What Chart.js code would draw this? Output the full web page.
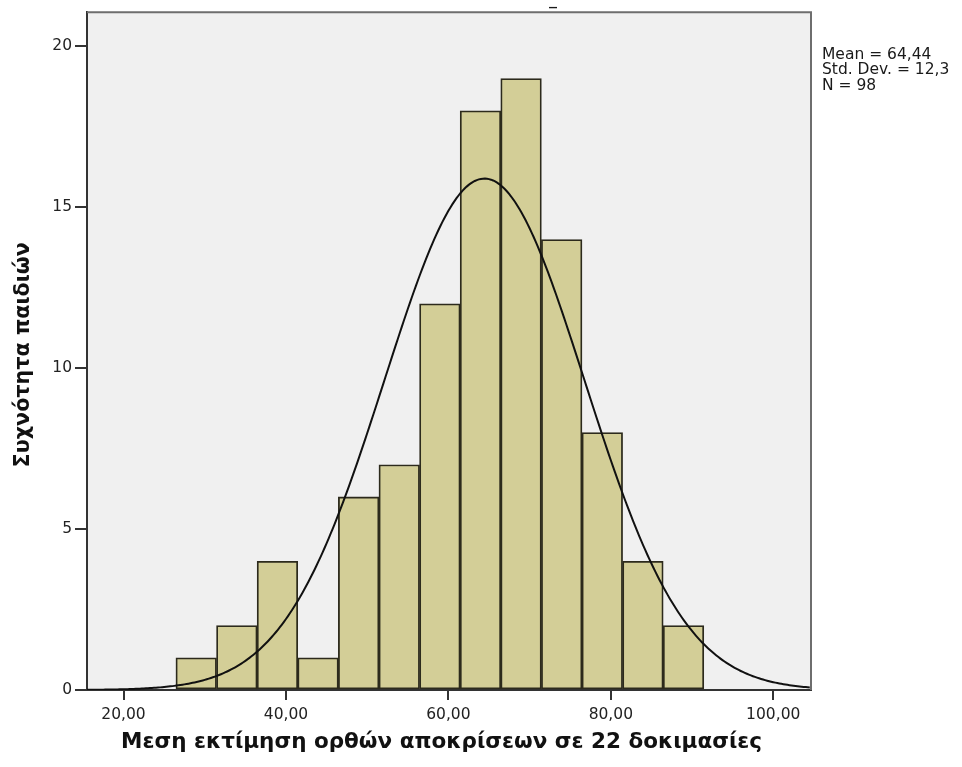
<!DOCTYPE html>
<html>
<head>
<meta charset="utf-8">
<script src="https://cdn.jsdelivr.net/npm/chart.js@4.4.1/dist/chart.umd.min.js"></script>
<style>
  html, body { margin: 0; padding: 0; background: #ffffff; }
  #wrap { width: 962px; height: 767px; position: relative; }
</style>
</head>
<body>
<div id="wrap"><canvas id="hist" width="962" height="767"></canvas></div>
<script>
// Histogram of mean correct-response scores over 22 tasks
const binLower = [26.45, 31.45, 36.45, 41.45, 46.45, 51.45, 56.45, 61.45, 66.45, 71.45, 76.45, 81.45, 86.45];
const binWidth = 5;
const counts = [1, 2, 4, 1, 6, 7, 12, 18, 19, 14, 8, 4, 2];

// Summary statistics shown beside the plot
const meanValue = 64.44;
const sdValue = 12.3;
const nValue = 98;
const statLines = ['Mean = 64,44', 'Std. Dev. = 12,3', 'N = 98'];

// Axis ticks and titles
const xTicks = [20, 40, 60, 80, 100];
const yTicks = [0, 5, 10, 15, 20];
const xMin = 15.5, xMax = 104.65;
const yMin = 0, yMax = 21.06;
const xTitle = 'Μεση εκτίμηση ορθών αποκρίσεων σε 22 δοκιμασίες';
const yTitle = 'Συχνότητα παιδιών';

const FONT = '"DejaVu Sans", Verdana, sans-serif';

// Bars placed at bin centres on a linear axis
const barPoints = binLower.map((lo, i) => ({ x: lo + binWidth / 2, y: counts[i] }));

// Fitted normal curve, scaled to counts per bin
const curveX = [];
for (let x = xMin; x <= xMax + 1e-9; x += 0.25) curveX.push(x);
const curvePoints = curveX.map(x => ({
  x: x,
  y: nValue * binWidth / (sdValue * Math.sqrt(2 * Math.PI)) *
     Math.exp(-0.5 * Math.pow((x - meanValue) / sdValue, 2))
}));

const fmtComma = v => v.toFixed(2).replace('.', ',');

const plotFrame = {
  id: 'plotFrame',
  beforeDraw(chart) {
    const { ctx, chartArea: a } = chart;
    ctx.save();
    ctx.fillStyle = '#f0f0f0';
    ctx.fillRect(a.left, a.top, a.right - a.left, a.bottom - a.top);
    ctx.restore();
  },
  afterDraw(chart) {
    const { ctx, chartArea: a } = chart;
    ctx.save();
    ctx.strokeStyle = '#6e6e6e';
    ctx.lineWidth = 2;
    ctx.beginPath();
    ctx.moveTo(a.left, a.top);
    ctx.lineTo(a.right, a.top);
    ctx.lineTo(a.right, a.bottom);
    ctx.stroke();
    // statistics block
    ctx.fillStyle = '#1a1a1a';
    ctx.font = '15.5px ' + FONT;
    ctx.textBaseline = 'middle';
    ctx.textAlign = 'left';
    statLines.forEach((t, i) => ctx.fillText(t, a.right + 11, 55 + i * 15.3));
    // clipped heading mark above the plot
    ctx.font = '20px ' + FONT;
    ctx.textAlign = 'center';
    ctx.textBaseline = 'alphabetic';
    ctx.fillText('–', 553, 13);
    ctx.restore();
  }
};

new Chart(document.getElementById('hist'), {
  data: {
    datasets: [
      {
        type: 'line',
        data: curvePoints,
        borderColor: '#111111',
        borderWidth: 2,
        pointRadius: 0,
        tension: 0,
        fill: false,
        order: 0
      },
      {
        type: 'bar',
        data: barPoints,
        backgroundColor: '#d3ce97',
        borderColor: '#2c2a1c',
        borderWidth: 1.8,
        barPercentage: 1,
        categoryPercentage: 1,
        borderSkipped: false,
        order: 1
      }
    ]
  },
  options: {
    responsive: false,
    animation: false,
    devicePixelRatio: 1,
    layout: { padding: { top: 12, right: 151, bottom: 0, left: 0 } },
    plugins: { legend: { display: false }, tooltip: { enabled: false } },
    scales: {
      x: {
        type: 'linear',
        offset: false,
        min: xMin,
        max: xMax,
        afterBuildTicks: s => { s.ticks = xTicks.map(v => ({ value: v })); },
        afterFit: s => { s.height = 77; },
        ticks: {
          callback: v => fmtComma(v),
          color: '#222222',
          font: { family: FONT, size: 15.5 },
          padding: 6,
          maxRotation: 0
        },
        grid: { display: true, offset: false, drawOnChartArea: false, drawTicks: true, tickLength: 10, color: '#333333', lineWidth: 2 },
        border: { display: true, color: '#333333', width: 2 },
        title: {
          display: true,
          text: xTitle + '  ',
          color: '#111111',
          font: { family: FONT, size: 21.5, weight: 'bold' },
          padding: { top: 0, bottom: 12 }
        }
      },
      y: {
        type: 'linear',
        min: yMin,
        max: yMax,
        afterBuildTicks: s => { s.ticks = yTicks.map(v => ({ value: v })); },
        afterFit: s => { s.width = 87; },
        ticks: {
          color: '#222222',
          font: { family: FONT, size: 15.5 },
          padding: 3
        },
        grid: { display: true, drawOnChartArea: false, drawTicks: true, tickLength: 12, color: '#333333', lineWidth: 2 },
        border: { display: true, color: '#333333', width: 2 },
        title: {
          display: true,
          text: yTitle + ' ',
          color: '#111111',
          font: { family: FONT, size: 20.7, weight: 'bold' },
          padding: { top: 11, bottom: 0 }
        }
      }
    }
  },
  plugins: [plotFrame]
});
</script>
</body>
</html>
